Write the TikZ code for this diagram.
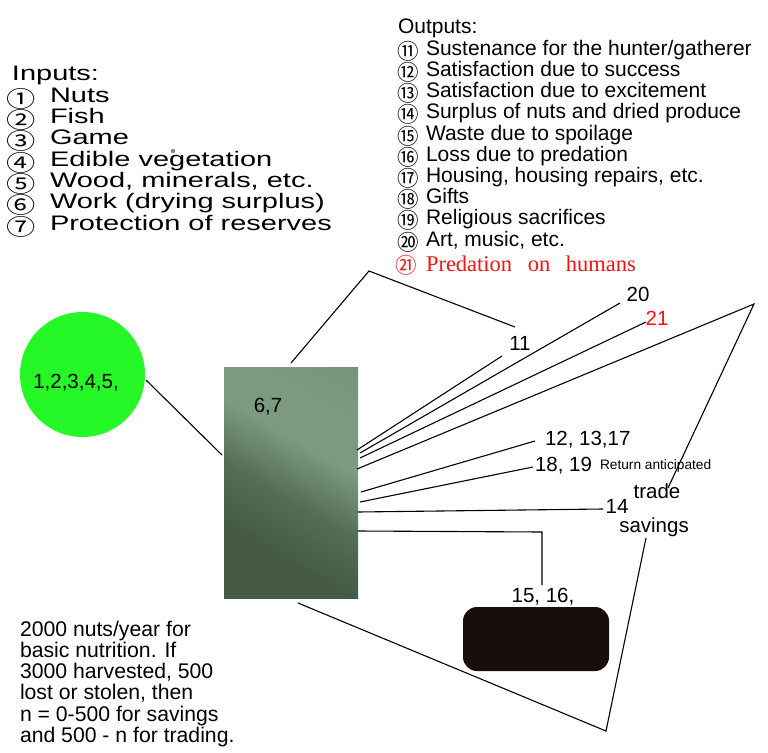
\documentclass[tikz,border=0pt]{standalone}
\usepackage{fontspec}
\setmainfont{Liberation Sans}
\newfontfamily\widefont[FakeStretch=1.38]{Liberation Sans}
\newfontfamily\cjkfont{Noto Sans CJK SC}
\newfontfamily\cjkwidefont[FakeStretch=1.3]{Noto Sans CJK SC}
\newfontfamily\redserif{Liberation Serif}
\definecolor{ballgreen}{RGB}{38,248,40}
\definecolor{boxlight}{RGB}{124,154,127}
\definecolor{boxtopl}{RGB}{110,140,114}
\definecolor{boxmid}{RGB}{84,110,86}
\definecolor{boxdark}{RGB}{68,90,68}
\definecolor{sink}{RGB}{24,12,12}
\definecolor{predred}{RGB}{240,20,20}
\definecolor{dotcol}{RGB}{155,122,122}
\pgfdeclareverticalshading{boxshade}{100bp}{color(0bp)=(boxdark); color(32bp)=(boxdark); color(46bp)=(boxmid); color(60bp)=(boxlight); color(72bp)=(boxlight); color(100bp)=(boxtopl)}
\begin{document}
\begin{tikzpicture}[x=1pt,y=-1pt,
  every node/.style={inner sep=0pt, outer sep=0pt},
  wire/.style={draw=black, line width=1.1pt},
  inlabel/.style={anchor=base west, font=\widefont\fontsize{21}{21}\selectfont},
  incirc/.style={anchor=center, font=\cjkwidefont\fontsize{22.5}{22.5}\selectfont},
  outlabel/.style={anchor=base west, font=\fontsize{21}{21}\selectfont},
  outcirc/.style={anchor=center, font=\cjkfont\fontsize{21.5}{21.5}\selectfont},
  notelabel/.style={anchor=base west, font=\fontsize{21.2}{21.2}\selectfont},
  numlabel/.style={anchor=base, font=\fontsize{20.5}{20.5}\selectfont}]
\useasboundingbox (0,0) rectangle (768,752);

% Inputs list
\node[inlabel] (inhead) at (12,81) {Inputs:};
\foreach \n/\c/\t [count=\k] in {i1/①/Nuts, i2/②/Fish, i3/③/Game, i4/④/{Edible vegetation}, i5/⑤/{Wood, minerals, etc.}, i6/⑥/{Work (drying surplus)}, i7/⑦/{Protection of reserves}}{
  \node[incirc] (\n c) at (21.5,{81+21.3*\k-3.5}) {\c};
  \node[inlabel] (\n) at (50,{81+21.3*\k}) {\t};
}
\fill[dotcol] (173,151) circle (2.2);

% Outputs list
\node[outlabel] (outhead) at (398,34) {Outputs:};
\foreach \n/\c/\t [count=\k] in {o11/⑪/{Sustenance for the hunter/gatherer}, o12/⑫/{Satisfaction due to success}, o13/⑬/{Satisfaction due to excitement}, o14/⑭/{Surplus of nuts and dried produce}, o15/⑮/{Waste due to spoilage}, o16/⑯/{Loss due to predation}, o17/⑰/{Housing, housing repairs, etc.}, o18/⑱/Gifts, o19/⑲/{Religious sacrifices}, o20/⑳/{Art, music, etc.}}{
  \node[outcirc] (\n c) at (408,{34+21.2*\k-4}) {\c};
  \node[outlabel] (\n) at (426,{34+21.2*\k}) {\t};
}
\node[outcirc, text=predred] (o21c) at (406.5,265) {㉑};
\node[anchor=base west, text=predred, font=\redserif\fontsize{22.5}{22.5}\selectfont] (o21) at (426,271) {Predation\hspace{10pt} on\hspace{10pt} humans};

% Green input ball
\node[circle, fill=ballgreen, minimum size=125pt] (ball) at (82.5,374.5) {};
\node[numlabel] (balltxt) at (76,388) {1,2,3,4,5,};

% Process box with gradient
\shade[shading=boxshade, shading angle=-30] (224,367) rectangle (358,598);
\node[numlabel] (box67) at (268,412) {6,7};

% Sink
\node[draw=none, fill=sink, rounded corners=14pt, minimum width=146pt, minimum height=64pt] (sinkbox) at (536,639) {};

% Labels
\node[numlabel] (l11) at (520,350) {11};
\node[numlabel] (l20) at (638,301) {20};
\node[numlabel, text=predred] (l21) at (657,325) {21};
\node[anchor=base west, font=\fontsize{20.5}{20.5}\selectfont] (l12) at (545,445) {12, 13,17};
\node[anchor=base west, font=\fontsize{20.5}{20.5}\selectfont] (l18) at (535,471) {18, 19};
\node[anchor=base west, font=\fontsize{13.7}{13.7}\selectfont] (lret) at (600,469) {Return anticipated};
\node[numlabel] (l14) at (617,513) {14};
\node[numlabel] (ltrade) at (657,498) {trade};
\node[numlabel] (lsav) at (654,532) {savings};
\node[numlabel] (l15) at (543,602) {15, 16,};

% Note
\foreach \t [count=\k from 0] in {2000 nuts/year for, basic nutrition. If, {3000 harvested, 500}, {lost or stolen, then}, n = 0-500 for savings, and 500 - n for trading.}{
  \node[notelabel] (note\k) at (20,{636+21.3*\k}) {\t};
}

% Connectors
\coordinate (ballE) at (146,380);
\coordinate (boxW) at (222,455);
\draw[wire] (ballE) -- (boxW);

\coordinate (boxtop) at (291,363);
\coordinate (apexA) at (369,271);
\coordinate (end11a) at (515,327);
\draw[wire] (boxtop) -- (apexA) -- (end11a);

\coordinate (r1) at (357,450); \coordinate (e11) at (502,356);
\coordinate (r2) at (360,453); \coordinate (e20) at (620,303);
\coordinate (r3) at (360,458); \coordinate (e21) at (646,322);
\coordinate (r4) at (357,469); \coordinate (apexB) at (754,304);
\coordinate (tradeTop) at (668,488);
\coordinate (r5) at (361,492); \coordinate (e12) at (535,441);
\coordinate (r6) at (360,502); \coordinate (e18) at (533,467);
\coordinate (r7) at (358,512); \coordinate (e14) at (603,509);
\coordinate (r8) at (358,531); \coordinate (k15) at (542,532); \coordinate (e15) at (542,585);
\coordinate (boxbot) at (298,603); \coordinate (apexC) at (606,731); \coordinate (savBot) at (646,538);

\draw[wire] (r1) -- (e11);
\draw[wire] (r2) -- (e20);
\draw[wire] (r3) -- (e21);
\draw[wire] (r4) -- (apexB) -- (tradeTop);
\draw[wire] (r5) -- (e12);
\draw[wire] (r6) -- (e18);
\draw[wire] (r7) -- (e14);
\draw[wire] (r8) -- (k15) -- (e15);
\draw[wire] (boxbot) -- (apexC) -- (savBot);
\end{tikzpicture}
\end{document}
